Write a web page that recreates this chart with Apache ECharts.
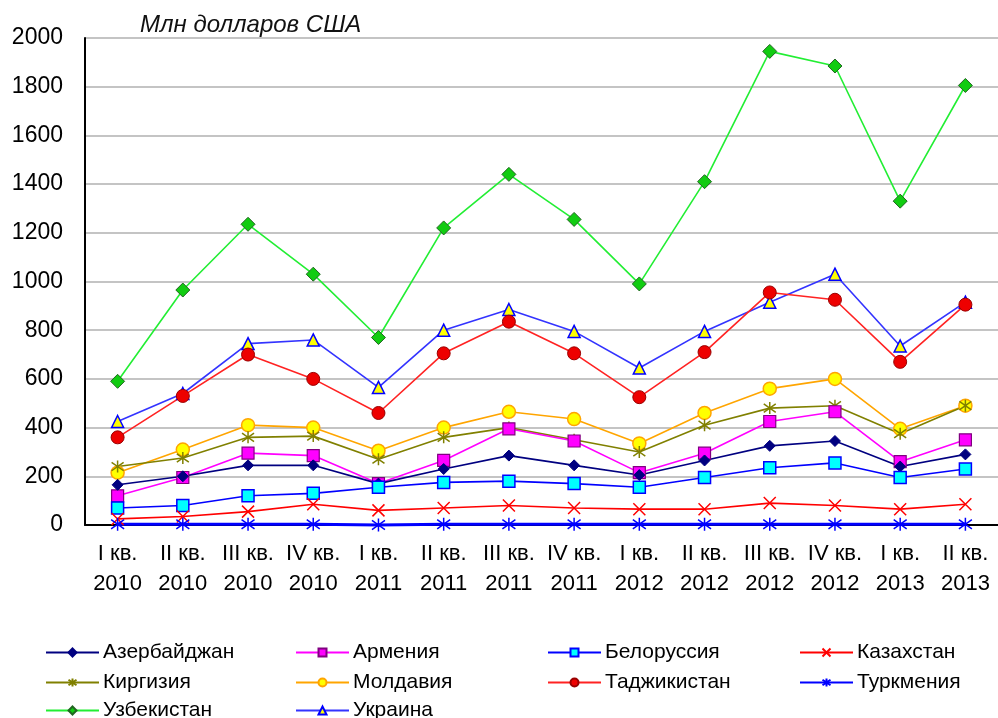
<!DOCTYPE html>
<html>
  <head>
    <meta charset="utf-8" />
    <title>Млн долларов США</title>
    <style type="text/css">
      html,
      body {
        width: 100%;
        height: 100%;
        margin: 0px;
        background: #fff;
      }

      #chart {
        width: 998px;
        height: 718px;
      }
    </style>
    <script type="text/javascript" src="https://cdn.jsdelivr.net/npm/echarts@6/dist/echarts.min.js"></script>
  </head>

  <body>
    <div id="chart"></div>
    <script>
      // данные
      const quarters = [
        'I кв.\n2010', 'II кв.\n2010', 'III кв.\n2010', 'IV кв.\n2010',
        'I кв.\n2011', 'II кв.\n2011', 'III кв.\n2011', 'IV кв.\n2011',
        'I кв.\n2012', 'II кв.\n2012', 'III кв.\n2012', 'IV кв.\n2012',
        'I кв.\n2013', 'II кв.\n2013'
      ];
      const azerbaijan = [165, 200, 245, 245, 170, 230, 285, 245, 205, 265, 325, 345, 240, 290];
      const armenia = [120, 195, 295, 285, 170, 265, 395, 345, 215, 295, 425, 465, 260, 350];
      const belarus = [70, 80, 120, 130, 155, 175, 180, 170, 155, 195, 235, 255, 195, 230];
      const kazakhstan = [25, 35, 55, 85, 60, 70, 80, 70, 65, 65, 90, 80, 65, 85];
      const kyrgyzstan = [240, 275, 360, 365, 270, 360, 400, 350, 300, 410, 480, 490, 375, 490];
      const moldova = [215, 310, 410, 400, 305, 400, 465, 435, 335, 460, 560, 600, 395, 490];
      const tajikistan = [360, 530, 700, 600, 460, 705, 835, 705, 525, 710, 955, 925, 670, 905];
      const turkmenistan = [3, 3, 3, 3, 0, 3, 3, 3, 3, 3, 3, 3, 3, 3];
      const uzbekistan = [590, 965, 1235, 1030, 770, 1220, 1440, 1255, 990, 1410, 1945, 1885, 1330, 1805];
      const ukraine = [425, 540, 745, 760, 565, 800, 885, 795, 645, 795, 915, 1030, 735, 915];

      const crossPath = 'path://M0,0L10,10M10,0L0,10';
      const starPath = 'path://M5,0L5,10M0,1.5L10,8.5M10,1.5L0,8.5';
      const font = 'Liberation Sans, Arial, sans-serif';

      function line(name, data, lineColor, symbol, size, fill, border, borderWidth) {
        return {
          name: name,
          type: 'line',
          data: data,
          symbol: symbol,
          symbolSize: size,
          showAllSymbol: true,
          clip: false,
          lineStyle: { color: lineColor, width: 1.6 },
          itemStyle: { color: fill, borderColor: border, borderWidth: borderWidth }
        };
      }

      const series = [
        line('Узбекистан', uzbekistan, '#22ee33', 'diamond', 14, '#11cc11', '#226622', 1),
        line('Украина', ukraine, '#3333ff', 'triangle', 12, '#ffff00', '#0000ff', 1.5),
        line('Таджикистан', tajikistan, '#ff2222', 'circle', 13, '#ee0000', '#990000', 1),
        line('Молдавия', moldova, '#ffa500', 'circle', 13, '#ffff00', '#ffa500', 1.5),
        line('Киргизия', kyrgyzstan, '#808000', starPath, 12, '#808000', '#808000', 1.5),
        line('Армения', armenia, '#ff00ff', 'rect', 12, '#ff00ff', '#800080', 1.2),
        line('Азербайджан', azerbaijan, '#000080', 'diamond', 11, '#000080', '#000080', 1),
        line('Белоруссия', belarus, '#0000ff', 'rect', 12, '#00ffff', '#0000ff', 1.5),
        line('Казахстан', kazakhstan, '#ff0000', crossPath, 12, '#ff0000', '#ff0000', 1.5),
        line('Туркмения', turkmenistan, '#0000ff', starPath, 13, '#0000ff', '#0000ff', 1.5)
      ];
      series[9].lineStyle.width = 3;

      // одна легенда на каждую страну, чтобы разложить их по колонкам
      function legendItem(left, top, name) {
        return {
          left: left,
          top: top,
          padding: 0,
          itemWidth: 53,
          itemHeight: 10,
          itemGap: 0,
          data: [name],
          textStyle: { fontFamily: font, fontSize: 21, color: '#000', padding: [0, 0, 0, -1] }
        };
      }

      const legendRows = [642, 672, 700];
      const legendCols = [45, 295, 547, 799];
      const legendLayout = [
        ['Азербайджан', 0, 0], ['Армения', 1, 0], ['Белоруссия', 2, 0], ['Казахстан', 3, 0],
        ['Киргизия', 0, 1], ['Молдавия', 1, 1], ['Таджикистан', 2, 1], ['Туркмения', 3, 1],
        ['Узбекистан', 0, 2], ['Украина', 1, 2]
      ];

      const chart = echarts.init(document.getElementById('chart'), null, { renderer: 'canvas' });
      chart.setOption({
        animation: false,
        backgroundColor: '#fff',
        title: {
          text: 'Млн долларов США',
          left: 135,
          top: 8,
          textStyle: { fontFamily: font, fontSize: 24, fontStyle: 'italic', fontWeight: 'normal', color: '#111' }
        },
        legend: legendLayout.map(l => legendItem(legendCols[l[1]], legendRows[l[2]], l[0])),
        grid: { left: 85, top: 38, width: 916, height: 487 },
        xAxis: {
          type: 'category',
          data: quarters,
          boundaryGap: true,
          axisLine: { lineStyle: { color: '#000', width: 2 } },
          axisTick: { show: false },
          axisLabel: {
            interval: 0,
            margin: 14,
            fontFamily: font,
            fontSize: 22,
            lineHeight: 30,
            color: '#000'
          }
        },
        yAxis: {
          type: 'value',
          min: 0,
          max: 2000,
          interval: 200,
          axisLine: { show: true, lineStyle: { color: '#000', width: 2 } },
          axisTick: { show: false },
          splitLine: { lineStyle: { color: '#c4c4c4', width: 2 } },
          axisLabel: {
            margin: 22,
            fontFamily: font,
            fontSize: 23,
            color: '#000',
            formatter: v => String(v)
          }
        },
        series: series
      });
    </script>
  </body>
</html>
